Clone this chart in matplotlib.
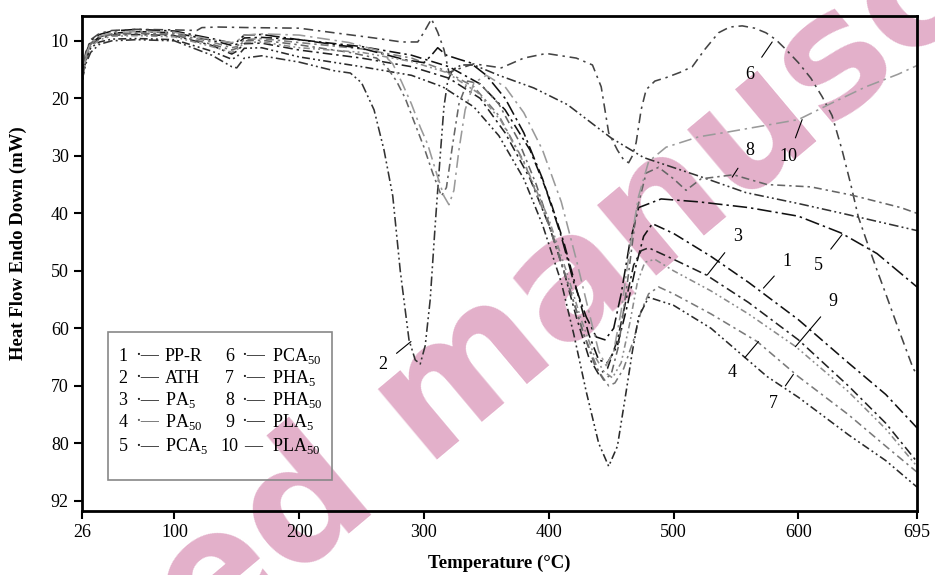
import matplotlib
matplotlib.use("Agg")
import matplotlib.pyplot as plt
from matplotlib.patches import Rectangle

plt.rcParams['font.family'] = ['Liberation Serif', 'DejaVu Serif']
plt.rcParams['mathtext.fontset'] = 'custom'
plt.rcParams['mathtext.rm'] = 'Liberation Serif'

# ---- data (temperature in C, heat flow in mW) ----
t1 = [26, 29, 33, 40, 50, 70, 100, 130, 146, 150, 156, 170, 200, 250, 290, 320, 345, 365, 385, 400, 412, 422,
      432, 440, 447, 455, 463, 470, 476, 483, 500, 530, 560, 600, 640, 670, 695]
y1 = [17, 12.5, 10.5, 9.3, 8.7, 8.4, 8.6, 9.9, 10.8, 10.6, 9.5, 9.4, 9.8, 11, 12.5, 14.5, 17.5, 22, 29, 37, 45, 53,
      61, 65.5, 66, 63, 56, 49, 44, 41.8, 43.5, 47.5, 52, 58.5, 66, 71.5, 77.3]

t2 = [26, 29, 33, 40, 50, 70, 100, 130, 146, 150, 156, 170, 200, 228, 241, 250, 260, 268, 275, 281, 288, 293,
      297, 301, 305, 309, 313, 316, 319, 323, 330, 340, 360, 388, 415, 450, 476, 520, 558, 600, 635, 665, 695]
y2 = [17, 14, 12, 10.6, 10, 9.8, 10, 12.5, 14.5, 14.7, 13, 12.6, 13.7, 15.2, 15.6, 17.3, 22, 29, 37, 50, 62, 65.5,
      66.2, 63, 55, 42, 30, 21.5, 17, 15, 14.2, 14.2, 16, 18.2, 21.1, 26.9, 30.3, 33.5, 36.4, 38.3, 40, 41.5, 43]

t3 = [26, 29, 33, 40, 50, 70, 100, 130, 146, 150, 156, 170, 200, 250, 290, 320, 345, 365, 385, 400, 412, 422,
      432, 440, 447, 455, 462, 468, 474, 480, 500, 526, 560, 600, 640, 670, 695]
y3 = [17, 13, 10.8, 9.6, 9, 8.9, 9.1, 10.8, 12.3, 11.8, 10.5, 10.4, 11.6, 13, 14.5, 16.5, 20, 26, 34, 42, 50, 58,
      65, 68, 67, 62, 55, 49, 46.5, 46, 48, 50.7, 55.5, 62, 70, 76.5, 83.2]

t4 = [26, 29, 33, 40, 50, 70, 100, 130, 146, 150, 156, 170, 200, 250, 290, 315, 340, 360, 380, 400, 415, 428,
      440, 448, 453, 460, 468, 474, 480, 488, 500, 530, 567, 600, 640, 670, 695]
y4 = [17, 12.8, 10.6, 9.4, 8.9, 8.7, 8.8, 10.2, 11.2, 11, 9.8, 9.6, 10.3, 11.4, 13, 15, 18, 23, 31, 42, 52, 61,
      67.5, 70, 69.5, 67, 62, 57, 54, 52.8, 54, 57.5, 62.3, 68.4, 75, 80.5, 85]

t5 = [26, 29, 33, 40, 50, 70, 100, 130, 146, 150, 156, 170, 200, 250, 285, 300, 306, 311, 318, 328, 337, 350,
      365, 380, 395, 410, 420, 430, 438, 445, 452, 458, 465, 472, 490, 520, 560, 600, 634, 663, 695]
y5 = [17, 12.2, 10, 8.9, 8.3, 8, 8.3, 9.6, 10.4, 10.2, 9, 8.9, 9.8, 11.3, 13.3, 13.8, 12.5, 11.2, 12.5, 13.2, 13.8,
      16, 20, 26, 34, 44, 52, 58, 61.5, 62, 60, 54, 45, 39, 37.5, 38, 39, 40.5, 43.4, 47, 52.8]

t6 = [26, 29, 33, 40, 50, 70, 100, 118, 122, 135, 160, 200, 228, 260, 282, 295, 300, 306, 311, 316, 320, 326,
      340, 362, 380, 398, 422, 435, 442, 448, 455, 460, 464, 467, 470, 474, 478, 485, 494, 505, 515, 525, 536,
      545, 555, 565, 574, 582, 590, 600, 610, 619, 627, 635, 642, 648, 655, 662, 670, 680, 692, 695]
y6 = [17, 12, 9.8, 8.7, 8.2, 8, 8.1, 8.2, 7.7, 7.6, 7.7, 7.8, 8.6, 9.5, 10.2, 10.2, 8.5, 6.2, 8.5, 11.5, 15.5, 15,
      14, 14.7, 13, 12.2, 13, 14.2, 18, 26, 29, 30.7, 31.2, 30, 27.7, 22, 18.5, 17, 16.4, 15.5, 14.5, 11.5, 8.6,
      7.6, 7.4, 7.8, 8.6, 9.8, 11.5, 13.8, 16.5, 19.7, 23, 29, 35, 40.6, 45, 49.3, 54, 60, 67, 68]

t7 = [26, 29, 33, 40, 50, 70, 100, 130, 146, 150, 156, 170, 200, 250, 290, 315, 340, 360, 380, 395, 410, 420,
      430, 440, 448, 455, 462, 467, 472, 480, 500, 530, 575, 600, 640, 670, 695]
y7 = [17, 13.5, 11.2, 10.2, 9.7, 9.6, 9.8, 11.8, 13.2, 12.8, 11.3, 11.2, 12.8, 14.5, 16, 18, 21.5, 26.5, 34, 42,
      52, 61, 71, 80, 84, 80.5, 71, 64, 58, 54.6, 56, 60, 68.4, 72, 78.5, 83, 87.6]

t8 = [26, 29, 33, 40, 50, 70, 100, 130, 146, 150, 156, 170, 200, 240, 262, 270, 278, 285, 292, 300, 307, 314,
      318, 323, 328, 335, 345, 360, 375, 390, 405, 418, 428, 437, 444, 450, 456, 463, 470, 478, 488, 500, 510,
      522, 548, 575, 610, 642, 682, 695]
y8 = [17, 12.5, 10.4, 9.3, 8.8, 8.7, 9, 10.6, 11.6, 11.3, 10, 9.9, 10.7, 12, 13, 14.5, 17, 20, 24, 28.5, 33, 37,
      35.5, 28, 21, 17, 17.5, 21, 27, 35, 45, 54, 61, 66.5, 69, 68, 63, 52, 40, 33, 32, 34, 36, 34, 33.3, 35,
      35.4, 36.8, 39, 40]

t9 = [26, 29, 33, 40, 50, 70, 100, 130, 146, 150, 156, 170, 200, 250, 290, 318, 343, 362, 382, 400, 414, 426,
      436, 444, 451, 458, 465, 471, 477, 485, 500, 530, 560, 598, 640, 670, 695]
y9 = [17, 13.2, 11, 9.8, 9.2, 9.1, 9.3, 11, 12, 11.6, 10.3, 10.2, 11.2, 12, 13.6, 15.5, 19, 24, 32, 41, 50, 58.5,
      64.5, 67.5, 68.6, 66, 59, 52, 48.5, 48, 50, 53.5, 57.5, 63.2, 71, 77.5, 84]

t10 = [26, 29, 33, 40, 50, 70, 100, 130, 146, 150, 156, 170, 200, 240, 265, 275, 282, 290, 297, 303, 310, 316,
       320, 324, 328, 333, 340, 350, 365, 380, 395, 410, 422, 432, 440, 446, 452, 458, 465, 472, 480, 494, 520,
       545, 566, 600, 627, 654, 680, 695]
y10 = [17, 12.6, 10.3, 9.2, 8.6, 8.4, 8.5, 9.8, 10.3, 10.1, 9, 8.8, 9, 10.3, 11.8, 14, 17.1, 21, 25, 28, 33, 37,
       38.5, 36, 29, 22, 17.3, 16, 18, 22.5, 29, 38, 48, 57, 64, 66.5, 64, 57, 46, 37, 31, 28.5, 26.7, 25.8, 25,
       23.7, 20.8, 18, 15.8, 14.3]

numbers = ['1', '2', '3', '4', '5', '6', '7', '8', '9', '10']
names = ['PP-R', 'ATH', 'PA$_{\\rm 5}$', 'PA$_{\\rm 50}$', 'PCA$_{\\rm 5}$',
         'PCA$_{\\rm 50}$', 'PHA$_{\\rm 5}$', 'PHA$_{\\rm 50}$', 'PLA$_{\\rm 5}$', 'PLA$_{\\rm 50}$']

xticks = [26, 100, 200, 300, 400, 500, 600, 695]
yticks = [10, 20, 30, 40, 50, 60, 70, 80, 90]
ytick_labels = ['10', '20', '30', '40', '50', '60', '70', '80', '92']

curves = [(t1, y1), (t2, y2), (t3, y3), (t4, y4), (t5, y5), (t6, y6), (t7, y7), (t8, y8), (t9, y9), (t10, y10)]
colors = ['#111111', '#333333', '#222222', '#7a7a7a', '#111111', '#444444', '#2a2a2a', '#666666', '#8c8c8c', '#9a9a9a']
dashes = [(0, (7, 2.5, 1.5, 2.5)), (0, (6, 2, 1.2, 2, 1.2, 2)), (0, (6, 2.5, 1.5, 2.5)), (0, (5, 2.5, 1.5, 2.5)),
          (0, (9, 2.5, 1.5, 2.5)), (0, (6, 3, 1.5, 3)), (0, (5, 2, 1.2, 2, 1.2, 2)), (0, (5, 2.5, 1.5, 2.5)),
          (0, (4, 2, 1.2, 2, 1.2, 2)), (0, (8, 3, 1.5, 3))]

# curve number labels: (text position, leader end)
tags = [('6', (561, 15.9), (579, 10.2)), ('10', (592, 30.2), (603, 23.7)), ('8', (561, 29.0), (547, 33.7)),
        ('3', (551, 44.1), (527, 50.7)), ('1', (591, 48.4), (572, 53.0)), ('5', (616, 49.0), (635, 43.7)),
        ('9', (628, 55.4), (597.6, 63.2)), ('4', (547, 67.7), (568, 62.3)), ('7', (580, 73.0), (596, 68.0)),
        ('2', (267, 66.3), (289.6, 62.3))]

fig = plt.figure(figsize=(9.35, 5.75), dpi=100)
ax = fig.add_axes([0.0877, 0.111, 0.893, 0.862])
ax.set_facecolor('none')

for (t, y), c, d in zip(curves, colors, dashes):
    ax.plot(t, y, color=c, lw=1.15, linestyle=d)

for txt, pos, end in tags:
    ax.annotate(txt, xy=end, xytext=pos, fontsize=13, ha='center', va='center',
                arrowprops=dict(arrowstyle='-', color='black', lw=0.8, shrinkA=6, shrinkB=0))

ax.set_xlim(26, 695)
ax.set_ylim(91.8, 5.6)
ax.set_xticks(xticks)
ax.set_yticks(yticks)
ax.set_yticklabels(ytick_labels)
ax.tick_params(labelsize=13, width=1.5, length=6, direction='out')
for s in ax.spines.values():
    s.set_linewidth(2)

ax.set_xlabel('Temperature (°C)', fontsize=13.5, fontweight='bold')
ax.set_ylabel('Heat Flow Endo Down (mW)', fontsize=13.5, fontweight='bold')
ax.xaxis.set_label_coords(0.5, -0.088)
ax.yaxis.set_label_coords(-0.066, 0.54)

# legend box drawn like the original (number, line sample, name)
ax.add_patch(Rectangle((0.031, 0.063), 0.268, 0.298, transform=ax.transAxes,
                       fill=False, edgecolor='#888888', lw=1.2, zorder=5))
rows = [0.313, 0.2685, 0.224, 0.1797, 0.131]
for i in range(10):
    col = i // 5
    ry = rows[i % 5]
    nx, sx, lx = (0.049, 0.078, 0.0994) if col == 0 else (0.177, 0.205, 0.2275)
    ax.text(nx, ry, numbers[i], transform=ax.transAxes, fontsize=13, ha='center', va='center')
    ax.text(sx, ry, '—' if i == 9 else '·—', transform=ax.transAxes, fontsize=13, ha='center', va='center',
            color='#111111' if i != 3 else '#555555')
    ax.text(lx, ry, names[i], transform=ax.transAxes, fontsize=13, ha='left', va='center')

# watermark, sits underneath the curves
fig.text(0.478, 0.32, 'Accepted manuscript', fontsize=120, fontweight='bold', family='DejaVu Sans',
         color='#e3b0ca', rotation=40, ha='center', va='center', zorder=-1)

fig.savefig('out.png', dpi=100)
